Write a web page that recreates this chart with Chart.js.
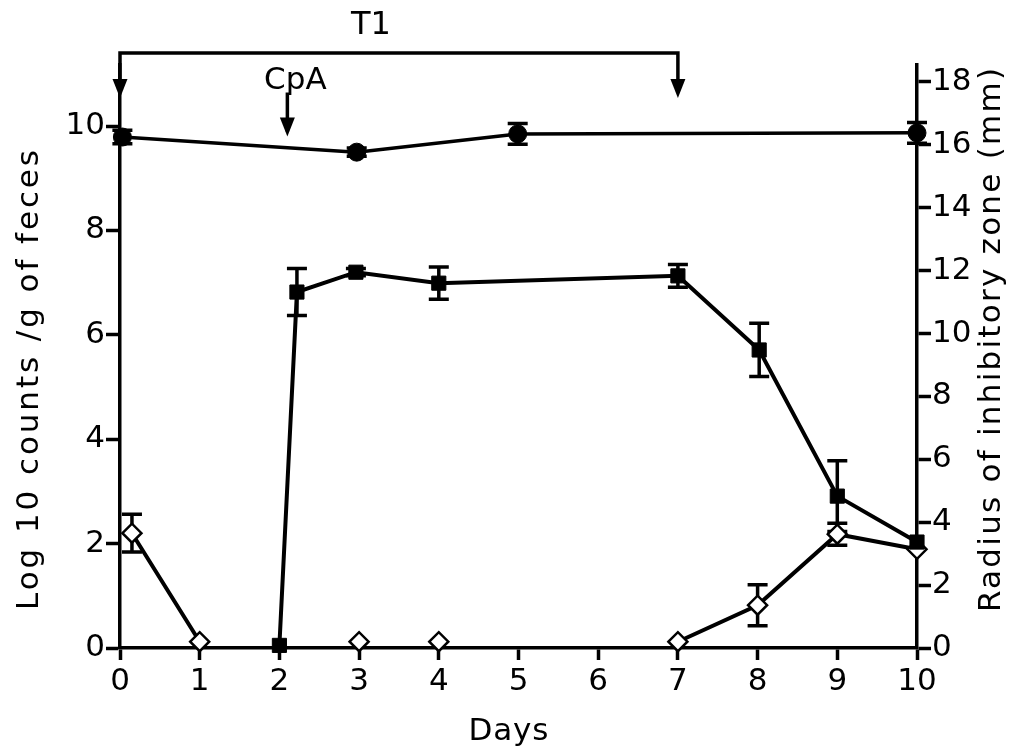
<!DOCTYPE html>
<html>
<head>
<meta charset="utf-8">
<script src="https://cdn.jsdelivr.net/npm/chart.js@4.4.1/dist/chart.umd.min.js"></script>
<style>
  html, body { margin: 0; padding: 0; background: #fff; }
  #wrap { width: 1011px; height: 746px; position: relative; }
</style>
</head>
<body>
<div id="wrap"><canvas id="c"></canvas></div>
<script>
// ---- Data ----
const xTicks = [0, 1, 2, 3, 4, 5, 6, 7, 8, 9, 10];
const leftTicks = [0, 2, 4, 6, 8, 10];
const rightTicks = [0, 2, 4, 6, 8, 10, 12, 14, 16, 18];

// filled circles (left axis, log10 counts)
const circleDays = [0.03, 2.97, 4.99, 10];
const circleVals = [9.79, 9.50, 9.85, 9.87];
const circleErr  = [0.13, 0.08, 0.20, 0.20];

// filled squares (left axis, log10 counts)
const squareDays = [2, 2.22, 2.96, 4.0, 7.0, 8.02, 9.0, 10];
const squareVals = [0.05, 6.82, 7.20, 6.99, 7.13, 5.71, 2.91, 2.03];
const squareErr  = [0, 0.45, 0.07, 0.31, 0.22, 0.51, 0.68, 0];

// open diamonds (right axis, radius of inhibitory zone, mm); null = no connecting line
const diamondDays = [0.15, 1, 2, 3, 3.5, 4, 5.5, 7, 8, 9, 10];
const diamondVals = [3.65, 0.2, null, 0.2, null, 0.2, null, 0.2, 1.36, 3.62, 3.14];
const diamondErr  = [0.6, 0, 0, 0, 0, 0, 0, 0, 0.65, 0.35, 0];

// annotations
const tiDays = [0, 7];
const tiLabel = "T1";
const cpaDay = 2.1;
const cpaLabel = "CpA";

const FONT = "'DejaVu Sans', sans-serif";

function pts(xs, ys) { return xs.map((x, i) => ({ x: x, y: ys[i] })); }

const errorBars = {
  id: 'errorBars',
  beforeDatasetsDraw(chart) {
    const ctx = chart.ctx;
    const xs = chart.scales.x;
    chart.data.datasets.forEach(ds => {
      if (!ds.errors) return;
      const ys = chart.scales[ds.yAxisID];
      ctx.save();
      ctx.strokeStyle = '#000';
      ctx.lineWidth = 3.5;
      ds.data.forEach((p, i) => {
        const e = ds.errors[i];
        if (p.y == null || !e) return;
        const px = xs.getPixelForValue(p.x);
        const top = ys.getPixelForValue(p.y + e);
        const bot = ys.getPixelForValue(p.y - e);
        ctx.beginPath();
        ctx.moveTo(px, top); ctx.lineTo(px, bot);
        ctx.moveTo(px - 10, top); ctx.lineTo(px + 10, top);
        ctx.moveTo(px - 10, bot); ctx.lineTo(px + 10, bot);
        ctx.stroke();
      });
      ctx.restore();
    });
  }
};

function arrowHead(ctx, x, tipY) {
  ctx.beginPath();
  ctx.moveTo(x, tipY);
  ctx.lineTo(x - 7.5, tipY - 19);
  ctx.lineTo(x + 7.5, tipY - 19);
  ctx.closePath();
  ctx.fill();
}

function spacedText(ctx, text, x, y, rot, target) {
  ctx.save();
  ctx.translate(x, y);
  ctx.rotate(rot);
  ctx.letterSpacing = '0px';
  const w = ctx.measureText(text).width;
  const sp = Math.max(0, (target - w) / (text.length - 1));
  ctx.letterSpacing = sp + 'px';
  ctx.textAlign = 'left';
  ctx.fillText(text, -target / 2, 0);
  ctx.restore();
}

const annotations = {
  id: 'annotations',
  afterDraw(chart) {
    const ctx = chart.ctx;
    const xs = chart.scales.x, yl = chart.scales.y;
    const area = chart.chartArea;
    ctx.save();
    ctx.strokeStyle = '#000';
    ctx.fillStyle = '#000';
    ctx.lineWidth = 3.5;
    // T1 bracket
    const x0 = xs.getPixelForValue(tiDays[0]);
    const x1 = xs.getPixelForValue(tiDays[1]);
    const yBar = area.top - 12;
    const tip = yl.getPixelForValue(10.54);
    ctx.beginPath();
    ctx.moveTo(x0, tip - 5); ctx.lineTo(x0, yBar); ctx.lineTo(x1, yBar); ctx.lineTo(x1, tip - 5);
    ctx.stroke();
    arrowHead(ctx, x0, tip);
    arrowHead(ctx, x1, tip);
    ctx.font = "32px " + FONT;
    ctx.textAlign = 'center';
    ctx.textBaseline = 'alphabetic';
    ctx.fillText(tiLabel, (x0 + x1) / 2 - 28, yBar - 19);
    // CpA arrow
    const xc = xs.getPixelForValue(cpaDay);
    const tipC = yl.getPixelForValue(9.8);
    ctx.beginPath();
    ctx.moveTo(xc, tipC - 44); ctx.lineTo(xc, tipC - 5);
    ctx.stroke();
    arrowHead(ctx, xc, tipC);
    ctx.font = "31px " + FONT;
    ctx.fillText(cpaLabel, xc + 8, tipC - 48);
    // axis titles
    ctx.font = "31px " + FONT;
    spacedText(ctx, "Days", (area.left + area.right) / 2 - 10, 740, 0, 80);
    spacedText(ctx, "Log 10 counts /g of feces", 38, 380, -Math.PI / 2, 460);
    spacedText(ctx, "Radius of inhibitory zone (mm)", 1000, 340, -Math.PI / 2, 544);
    ctx.restore();
  }
};

const tickFont = { family: FONT, size: 31 };

new Chart(document.getElementById('c'), {
  type: 'line',
  data: {
    datasets: [
      {
        label: 'circles', data: pts(circleDays, circleVals), errors: circleErr, yAxisID: 'y',
        borderColor: '#000', borderWidth: 3.5, pointStyle: 'circle', pointRadius: 9,
        pointBackgroundColor: '#000', pointBorderColor: '#000', pointBorderWidth: 1, tension: 0, clip: false
      },
      {
        label: 'squares', data: pts(squareDays, squareVals), errors: squareErr, yAxisID: 'y',
        borderColor: '#000', borderWidth: 4, pointStyle: 'rect', pointRadius: 10,
        pointBackgroundColor: '#000', pointBorderColor: '#000', pointBorderWidth: 1, tension: 0, clip: false
      },
      {
        label: 'diamonds', data: pts(diamondDays, diamondVals), errors: diamondErr, yAxisID: 'y2',
        borderColor: '#000', borderWidth: 4, pointStyle: 'rectRot', pointRadius: 9.5,
        pointBackgroundColor: '#fff', pointBorderColor: '#000', pointBorderWidth: 2.5,
        spanGaps: false, tension: 0, clip: false
      }
    ]
  },
  options: {
    responsive: true,
    maintainAspectRatio: false,
    animation: false,
    layout: { padding: { top: 65, left: 0, right: 0, bottom: 0 } },
    plugins: { legend: { display: false }, tooltip: { enabled: false } },
    scales: {
      x: {
        type: 'linear', min: 0, max: 10,
        afterBuildTicks: s => { s.ticks = xTicks.map(v => ({ value: v })); },
        afterFit: s => { s.height = 98; },
        ticks: { color: '#000', font: tickFont, padding: 3, maxRotation: 0 },
        grid: { drawOnChartArea: false, drawTicks: true, tickLength: 12, tickColor: '#000', tickWidth: 3.5 },
        border: { display: true, color: '#000', width: 3.5 }
      },
      y: {
        type: 'linear', position: 'left', min: 0, max: 11.17,
        afterBuildTicks: s => { s.ticks = leftTicks.map(v => ({ value: v })); },
        afterFit: s => { s.width = 120; },
        ticks: { color: '#000', font: tickFont, padding: 1 },
        grid: { drawOnChartArea: false, drawTicks: true, tickLength: 14, tickColor: '#000', tickWidth: 3.5 },
        border: { display: true, color: '#000', width: 3.5 }
      },
      y2: {
        type: 'linear', position: 'right', min: 0, max: 18.54,
        afterBuildTicks: s => { s.ticks = rightTicks.map(v => ({ value: v })); },
        afterFit: s => { s.width = 94; },
        ticks: { color: '#000', font: tickFont, padding: 1 },
        grid: { drawOnChartArea: false, drawTicks: true, tickLength: 14, tickColor: '#000', tickWidth: 3.5 },
        border: { display: true, color: '#000', width: 3.5 }
      }
    }
  },
  plugins: [errorBars, annotations]
});
</script>
</body>
</html>
